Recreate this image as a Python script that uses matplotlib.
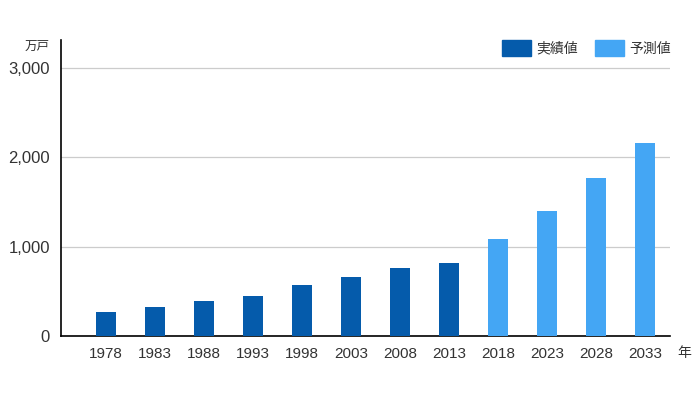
import numpy as np
import matplotlib
matplotlib.use("Agg")
import matplotlib.pyplot as plt
from matplotlib.patches import Patch

plt.rcParams['font.family'] = ['Liberation Sans', 'Noto Sans CJK JP', 'DejaVu Sans']

years = ["1978", "1983", "1988", "1993", "1998", "2003", "2008", "2013",
         "2018", "2023", "2028", "2033"]
actual = [268, 330, 394, 448, 576, 659, 757, 820]       # 実績値
forecast = [1083, 1404, 1773, 2166]                      # 予測値
y_ticks = [0, 1000, 2000, 3000]
y_labels = ["0", "1,000", "2,000", "3,000"]

dark = "#055BAB"
light = "#44A6F4"
text_col = "#333333"
jp = ['Noto Sans CJK JP', 'DejaVu Sans']

fig = plt.figure(figsize=(7, 4), dpi=100)
ax = fig.add_axes([0.087, 0.16, 0.87, 0.74])

x_act = np.arange(len(actual))
x_fc = np.arange(len(actual), len(years))
ax.bar(x_act, actual, width=0.4, color=dark, zorder=3)
ax.bar(x_fc, forecast, width=0.4, color=light, zorder=3)

ax.set_xlim(-0.92, 11.51)
ax.set_ylim(0, 3315)
ax.set_yticks(y_ticks)
ax.set_yticklabels(y_labels, fontsize=12, color=text_col)
ax.set_xticks(np.arange(len(years)))
ax.set_xticklabels(years, fontsize=11, color=text_col)
ax.tick_params(axis='both', length=0)
ax.tick_params(axis='y', pad=8)
ax.tick_params(axis='x', pad=8)

ax.grid(axis='y', color='#cccccc', linewidth=0.9, zorder=0)
for s in ['top', 'right']:
    ax.spines[s].set_visible(False)
ax.spines['left'].set_color('black')
ax.spines['bottom'].set_color('black')
ax.spines['left'].set_linewidth(1.2)
ax.spines['bottom'].set_linewidth(1.2)

fig.text(0.053, 0.885, "万戸", fontsize=9, color=text_col, family=jp,
         ha='center', va='center')
fig.text(0.978, 0.117, "年", fontsize=10, color=text_col, family=jp,
         ha='center', va='center')

handles = [Patch(color=dark, label="実績値"), Patch(color=light, label="予測値")]
leg = fig.legend(handles=handles, loc='center right', bbox_to_anchor=(0.963, 0.88),
                 ncol=2, frameon=False, handlelength=2.1, handleheight=1.3,
                 handletextpad=0.4, columnspacing=1.2, borderaxespad=0,
                 borderpad=0.2, prop={'family': jp, 'size': 10})
for t in leg.get_texts():
    t.set_color(text_col)

fig.savefig("out.png", dpi=100)
